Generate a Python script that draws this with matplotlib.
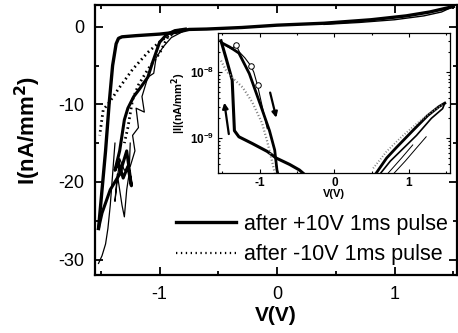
import numpy as np
import matplotlib
matplotlib.use("Agg")
import matplotlib.pyplot as plt
from matplotlib.ticker import MultipleLocator, LogLocator, NullFormatter

plt.rcParams['font.family'] = ['Liberation Sans', 'DejaVu Sans']
plt.rcParams['axes.unicode_minus'] = False

# ---- main panel data: V (V), I (nA/mm^2) ----
fwd_v = [-1.52, -1.49, -1.46, -1.43, -1.40, -1.37, -1.35, -1.32, -1.2, -1.0,
         -0.85, -0.75, -0.6, -0.3, 0.0, 0.4, 0.8, 1.1, 1.3, 1.5]
fwd_i = [-26, -21, -16, -10, -5, -2.2, -1.5, -1.3, -1.15, -0.95,
         -0.7, -0.35, -0.3, -0.1, 0.2, 0.45, 0.9, 1.4, 1.9, 2.6]

pos_ret_v = [1.5, 1.4, 1.25, 1.0, 0.7, 0.4]
pos_ret_i = [2.6, 1.9, 1.4, 0.9, 0.55, 0.3]

ret_v = [-0.78, -0.87, -0.94, -1.0, -1.06, -1.1, -1.17, -1.22, -1.27, -1.30,
         -1.34, -1.38, -1.35, -1.31, -1.27, -1.24, -1.28, -1.34, -1.42, -1.49, -1.52]
ret_i = [-0.3, -0.5, -1.0, -2.0, -4.6, -6.5, -8.0, -9.0, -10.5, -12,
         -16, -18.5, -17.5, -19.5, -18, -20.5, -16, -19, -21, -24, -26]

thin_v = [-0.8, -0.9, -0.97, -1.03, -1.05, -1.1, -1.15, -1.13, -1.2, -1.18, -1.23,
          -1.21, -1.25, -1.3, -1.34, -1.38, -1.36, -1.32, -1.30, -1.28, -1.26, -1.25]
thin_i = [-0.6, -1.4, -2.6, -4.0, -6.0, -6.5, -9.0, -11.0, -10.5, -13, -14,
          -16, -18, -18.5, -17, -22.5, -19, -23, -24.5, -21, -19, -15]

left_v = [-1.52, -1.49, -1.46, -1.44, -1.42, -1.40, -1.38]
left_i = [-30.5, -29.5, -28, -26, -23, -19, -15]

dot_a_v = [-0.85, -0.98, -1.1, -1.23, -1.35, -1.43, -1.48, -1.51]
dot_a_i = [-0.5, -1.7, -3.3, -5.5, -8, -9.8, -10.7, -14]
dot_b_v = [-0.82, -0.93, -1.0, -1.1, -1.18, -1.23, -1.27, -1.30]
dot_b_i = [-0.4, -1.3, -3.4, -5.5, -7.5, -9.4, -13, -15]

# ---- inset data: V (V), |I| ----
in_fwd_v = [-1.52, -1.45, -1.37, -1.34, -1.28, -1.1, -0.9, -0.78, -0.6, -0.47, -0.42]
in_fwd_i = [3.0e-8, 1.6e-8, 7.6e-9, 1.3e-9, 1.05e-9, 8.3e-10, 6.3e-10, 5.0e-10,
            4.0e-10, 3.3e-10, 2.95e-10]
in_ret_v = [-1.5, -1.4, -1.28, -1.14, -0.98, -0.87, -0.8, -0.77, -0.76]
in_ret_i = [2.75e-8, 2.4e-8, 1.95e-8, 9.5e-9, 2.95e-9, 1.3e-9, 6.6e-10, 3.3e-10, 2.95e-10]
in_circ_v = [-1.45, -1.38, -1.32, -1.27, -1.2, -1.12, -1.08, -1.03, -0.98, -0.9]
in_circ_i = [2.5e-8, 2.25e-8, 2.6e-8, 2.0e-8, 1.65e-8, 1.25e-8, 1.0e-8, 6.3e-9, 3.5e-9, 1.4e-9]
in_dot_v = [-1.52, -1.45, -1.35, -1.23, -1.1, -0.97, -0.9, -0.83, -0.8]
in_dot_i = [1.5e-8, 1.05e-8, 7.9e-9, 5.9e-9, 3.5e-9, 1.7e-9, 8.9e-10, 4.2e-10, 2.95e-10]

in_pos_v = [0.56, 0.7, 0.83, 1.05, 1.25, 1.4, 1.48]
in_pos_i = [2.95e-10, 5.0e-10, 7.2e-10, 1.3e-9, 2.2e-9, 3.0e-9, 3.4e-9]
in_pos2_v = [0.62, 0.75, 0.9, 1.1, 1.3, 1.45, 1.48]
in_pos2_i = [2.95e-10, 4.5e-10, 6.6e-10, 1.1e-9, 2.0e-9, 2.8e-9, 3.4e-9]
in_pos_thin_v = [0.8, 0.95, 1.1, 1.23]
in_pos_thin_i = [2.95e-10, 4.5e-10, 7.1e-10, 1.05e-9]
in_pos_thin2_v = [0.72, 0.9, 1.05]
in_pos_thin2_i = [2.95e-10, 5.0e-10, 7.9e-10]
in_pos_dot_v = [0.52, 0.7, 0.9, 1.1, 1.3, 1.45]
in_pos_dot_i = [3.5e-10, 6.3e-10, 1.05e-9, 1.65e-9, 2.5e-9, 3.2e-9]

arrow_up = [(-1.41, 1.05e-9), (-1.48, 3.8e-9)]
arrow_down = [(-0.87, 5.4e-9), (-0.77, 1.86e-9)]

fig = plt.figure(figsize=(4.58, 3.33), dpi=100)
ax = fig.add_axes([0.2074, 0.174, 0.790, 0.811])

ax.plot(fwd_v, fwd_i, color='black', lw=2.4)
ax.plot(pos_ret_v, pos_ret_i, color='black', lw=1.0)
ax.plot(ret_v, ret_i, color='black', lw=2.2)
ax.plot(thin_v, thin_i, color='black', lw=0.9)
ax.plot(left_v, left_i, color='black', lw=0.9)
ax.plot(dot_a_v, dot_a_i, color='black', lw=2.0, ls=(0, (0.6, 1.2)))
ax.plot(dot_b_v, dot_b_i, color='black', lw=2.0, ls=(0, (0.6, 1.2)))

ax.plot([], [], color='black', lw=2.4, label='after +10V 1ms pulse')
ax.plot([], [], color='black', lw=1.6, ls=(0, (0.6, 1.6)), label='after -10V 1ms pulse')

ax.set_xlim(-1.55, 1.53)
ax.set_ylim(-32, 2.8)
ax.xaxis.set_major_locator(MultipleLocator(1))
ax.xaxis.set_minor_locator(MultipleLocator(0.5))
ax.yaxis.set_major_locator(MultipleLocator(10))
ax.yaxis.set_minor_locator(MultipleLocator(5))
ax.tick_params(which='both', direction='in', top=True, right=True, width=1.3)
ax.tick_params(which='major', length=6, labelsize=13, pad=8)
ax.tick_params(which='minor', length=3)
for s in ax.spines.values():
    s.set_linewidth(1.6)
ax.set_xlabel('V(V)', fontsize=15, fontweight='bold', labelpad=2)
ax.set_ylabel('I(nA/mm$^\\mathbf{2}$)', fontsize=16, fontweight='bold')
ax.yaxis.set_label_coords(-0.145, 0.535)

leg = ax.legend(loc='lower right', bbox_to_anchor=(1.01, -0.012), frameon=False,
                fontsize=15.5, handlelength=2.8, handletextpad=0.35, labelspacing=0.45,
                borderpad=0.1)

# ---- inset ----
axi = fig.add_axes([0.476, 0.480, 0.5066, 0.420])
axi.plot(in_fwd_v, in_fwd_i, color='black', lw=2.2)
axi.plot(in_ret_v, in_ret_i, color='black', lw=2.0)
axi.plot(in_circ_v, in_circ_i, color='black', lw=0.8, marker='o', ms=4,
         mfc='white', mec='black', mew=0.7, markevery=[2, 5, 7])
axi.plot(in_dot_v, in_dot_i, color='gray', lw=1.6, ls=(0, (0.5, 1.0)))
axi.plot(in_pos_v, in_pos_i, color='black', lw=2.0)
axi.plot(in_pos2_v, in_pos2_i, color='black', lw=1.2)
axi.plot(in_pos_thin_v, in_pos_thin_i, color='black', lw=0.7)
axi.plot(in_pos_thin2_v, in_pos_thin2_i, color='black', lw=0.7)
axi.plot(in_pos_dot_v, in_pos_dot_i, color='gray', lw=1.4, ls=(0, (0.5, 1.0)))
for a in (arrow_up, arrow_down):
    axi.annotate('', xy=a[1], xytext=a[0],
                 arrowprops=dict(arrowstyle='-|>', color='black', lw=1.6,
                                 mutation_scale=8))

axi.set_yscale('log')
axi.set_xlim(-1.56, 1.55)
axi.set_ylim(10 ** -9.53, 10 ** -7.41)
axi.xaxis.set_major_locator(MultipleLocator(1))
axi.xaxis.set_minor_locator(MultipleLocator(0.5))
axi.yaxis.set_major_locator(LogLocator(base=10, numticks=5))
axi.yaxis.set_minor_locator(LogLocator(base=10, subs=np.arange(2, 10), numticks=10))
axi.yaxis.set_minor_formatter(NullFormatter())
axi.tick_params(which='both', direction='in', top=True, right=True, width=0.8)
axi.tick_params(which='major', length=3, labelsize=8.5, pad=3)
axi.tick_params(which='minor', length=1.5)
for lab in axi.get_xticklabels() + axi.get_yticklabels():
    lab.set_fontweight('bold')
for s in axi.spines.values():
    s.set_linewidth(0.9)
axi.set_xlabel('V(V)', fontsize=8, fontweight='bold', labelpad=0)
axi.set_ylabel('|I|(nA/mm$^\\mathbf{2}$)', fontsize=8, fontweight='bold', labelpad=1)

fig.savefig('out.png', dpi=100)
